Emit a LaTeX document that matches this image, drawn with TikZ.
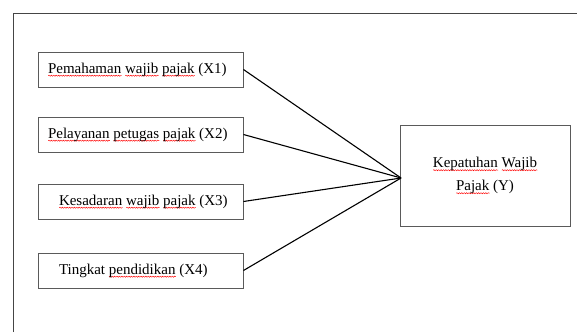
\documentclass[tikz,border=0pt]{standalone}
\usepackage{fontspec}
\setmainfont{Liberation Serif}
\usepackage{xcolor}
\usetikzlibrary{decorations.pathmorphing}
\newsavebox{\splbox}
\newcommand{\spl}[1]{\sbox{\splbox}{#1}\leavevmode\rlap{\raisebox{-2.6pt}[0pt][0pt]{\tikz[baseline=0pt]\draw[red, line width=0.45pt, decorate, decoration={snake, amplitude=0.55pt, segment length=2.4pt}] (0pt,0pt) -- (\the\wd\splbox,0pt);}}\usebox{\splbox}}
\definecolor{boxgray}{HTML}{5A5A5A}
\definecolor{framegray}{HTML}{454545}
\begin{document}
\begin{tikzpicture}[x=1pt,y=-1pt,
  xbox/.style={draw=boxgray, line width=0.9pt, minimum width=205pt, minimum height=35pt, inner xsep=10pt, inner ysep=0pt, font=\fontsize{15}{18}\selectfont},
  ybox/.style={draw=boxgray, line width=0.9pt, minimum width=170pt, minimum height=101pt, align=center, font=\fontsize{15}{23}\selectfont},
  conn/.style={draw=black, line width=1.1pt}]
\useasboundingbox (0,0) rectangle (577,332);
\draw[framegray, line width=1pt] (13,332) -- (13,13) -- (577,13);
\node[xbox] (x1) at (140.5,69.5) {\makebox[185pt][l]{\spl{Pemahaman} \spl{wajib} \spl{pajak} (X1)}};
\node[xbox] (x2) at (140.5,134.5) {\makebox[185pt][l]{\spl{Pelayanan} \spl{petugas} \spl{pajak} (X2)}};
\node[xbox] (x3) at (140.5,201.5) {\makebox[185pt][l]{\hspace*{11pt}\spl{Kesadaran} \spl{wajib} \spl{pajak} (X3)}};
\node[xbox] (x4) at (140.5,270.5) {\makebox[185pt][l]{\hspace*{11pt}Tingkat \spl{pendidikan} (X4)}};
\node[ybox] (y) at (485,175.5) {\spl{Kepatuhan} \spl{Wajib}\\ \spl{Pajak} (Y)};
\coordinate (yin) at ([xshift=1.5pt,yshift=-2.5pt]y.west);
\draw[conn] (x1.east) -- (yin);
\draw[conn] (x2.east) -- (yin);
\draw[conn] (x3.east) -- (yin);
\draw[conn] (x4.east) -- (yin);
\end{tikzpicture}
\end{document}
